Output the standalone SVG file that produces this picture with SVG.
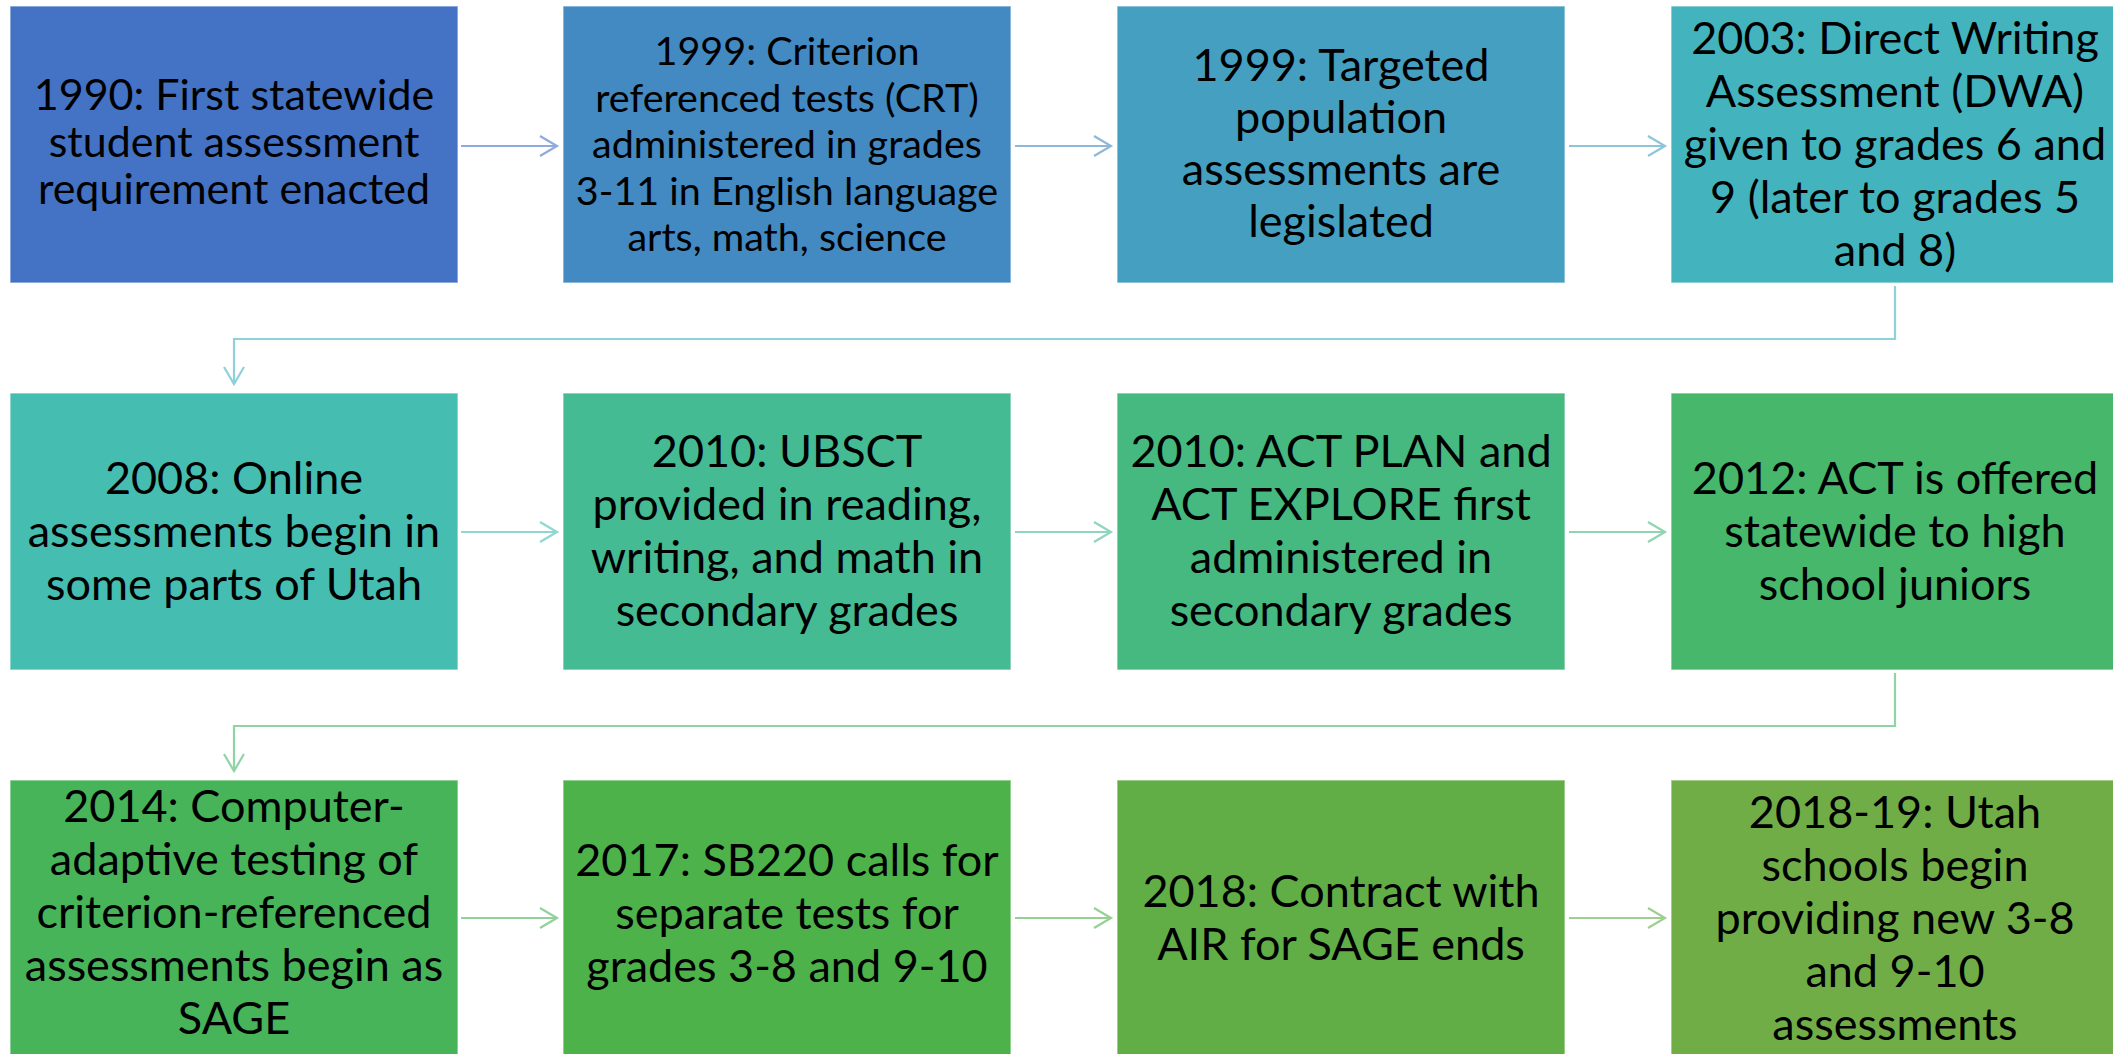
<svg xmlns="http://www.w3.org/2000/svg" width="2113" height="1054" viewBox="0 0 2113 1054">
<style>
.box{stroke:#ffffff;stroke-opacity:0.5;stroke-width:1.5}
.t{font-family:Lato,"Liberation Sans",sans-serif;font-size:45px;fill:#000000;text-anchor:middle}
.c{fill:none;stroke-width:2.2}
</style>
<defs>
<marker id="m1" markerUnits="userSpaceOnUse" viewBox="-20 -12 22 24" refX="0" refY="0" markerWidth="22" markerHeight="24" orient="auto" overflow="visible"><path d="M-17,-10 L0,0 L-17,10" fill="none" stroke="#8FAADC" stroke-width="2.2"/></marker>
<marker id="m2" markerUnits="userSpaceOnUse" viewBox="-20 -12 22 24" refX="0" refY="0" markerWidth="22" markerHeight="24" orient="auto" overflow="visible"><path d="M-17,-10 L0,0 L-17,10" fill="none" stroke="#8EB8DA" stroke-width="2.2"/></marker>
<marker id="m3" markerUnits="userSpaceOnUse" viewBox="-20 -12 22 24" refX="0" refY="0" markerWidth="22" markerHeight="24" orient="auto" overflow="visible"><path d="M-17,-10 L0,0 L-17,10" fill="none" stroke="#8FC5D9" stroke-width="2.2"/></marker>
<marker id="m4" markerUnits="userSpaceOnUse" viewBox="-20 -12 22 24" refX="0" refY="0" markerWidth="22" markerHeight="24" orient="auto" overflow="visible"><path d="M-17,-10 L0,0 L-17,10" fill="none" stroke="#8ED2D8" stroke-width="2.2"/></marker>
<marker id="m5" markerUnits="userSpaceOnUse" viewBox="-20 -12 22 24" refX="0" refY="0" markerWidth="22" markerHeight="24" orient="auto" overflow="visible"><path d="M-17,-10 L0,0 L-17,10" fill="none" stroke="#8FD7D0" stroke-width="2.2"/></marker>
<marker id="m6" markerUnits="userSpaceOnUse" viewBox="-20 -12 22 24" refX="0" refY="0" markerWidth="22" markerHeight="24" orient="auto" overflow="visible"><path d="M-17,-10 L0,0 L-17,10" fill="none" stroke="#8FD6BF" stroke-width="2.2"/></marker>
<marker id="m7" markerUnits="userSpaceOnUse" viewBox="-20 -12 22 24" refX="0" refY="0" markerWidth="22" markerHeight="24" orient="auto" overflow="visible"><path d="M-17,-10 L0,0 L-17,10" fill="none" stroke="#8FD5B2" stroke-width="2.2"/></marker>
<marker id="m8" markerUnits="userSpaceOnUse" viewBox="-20 -12 22 24" refX="0" refY="0" markerWidth="22" markerHeight="24" orient="auto" overflow="visible"><path d="M-17,-10 L0,0 L-17,10" fill="none" stroke="#90D4A6" stroke-width="2.2"/></marker>
<marker id="m9" markerUnits="userSpaceOnUse" viewBox="-20 -12 22 24" refX="0" refY="0" markerWidth="22" markerHeight="24" orient="auto" overflow="visible"><path d="M-17,-10 L0,0 L-17,10" fill="none" stroke="#91D29B" stroke-width="2.2"/></marker>
<marker id="m10" markerUnits="userSpaceOnUse" viewBox="-20 -12 22 24" refX="0" refY="0" markerWidth="22" markerHeight="24" orient="auto" overflow="visible"><path d="M-17,-10 L0,0 L-17,10" fill="none" stroke="#95D193" stroke-width="2.2"/></marker>
<marker id="m11" markerUnits="userSpaceOnUse" viewBox="-20 -12 22 24" refX="0" refY="0" markerWidth="22" markerHeight="24" orient="auto" overflow="visible"><path d="M-17,-10 L0,0 L-17,10" fill="none" stroke="#A0CE91" stroke-width="2.2"/></marker>
</defs>
<rect width="2113" height="1054" fill="#ffffff"/>

<g id="connectors">
<path class="c" stroke="#8FAADC" d="M461,146 H557" marker-end="url(#m1)"/>
<path class="c" stroke="#8EB8DA" d="M1015,146 H1111" marker-end="url(#m2)"/>
<path class="c" stroke="#8FC5D9" d="M1569,146 H1665" marker-end="url(#m3)"/>
<path class="c" stroke="#8ED2D8" d="M1895,286 V339 H234 V384" marker-end="url(#m4)"/>
<path class="c" stroke="#8FD7D0" d="M461,532 H557" marker-end="url(#m5)"/>
<path class="c" stroke="#8FD6BF" d="M1015,532 H1111" marker-end="url(#m6)"/>
<path class="c" stroke="#8FD5B2" d="M1569,532 H1665" marker-end="url(#m7)"/>
<path class="c" stroke="#90D4A6" d="M1895,673 V726 H234 V771" marker-end="url(#m8)"/>
<path class="c" stroke="#91D29B" d="M461,918 H557" marker-end="url(#m9)"/>
<path class="c" stroke="#95D193" d="M1015,918 H1111" marker-end="url(#m10)"/>
<path class="c" stroke="#A0CE91" d="M1569,918 H1665" marker-end="url(#m11)"/>
</g>

<g id="node1"><rect class="box" x="10" y="6" width="448" height="277" fill="#4472C4"/>
<text class="t" style="font-size:43px"><tspan x="234" y="110">1990: First statewide</tspan><tspan x="234" y="157">student assessment</tspan><tspan x="234" y="204">requirement enacted</tspan></text></g>

<g id="node2"><rect class="box" x="563" y="6" width="448" height="277" fill="#4389C2"/>
<text class="t" style="font-size:39.5px"><tspan x="787" y="65">1999: Criterion</tspan><tspan x="787" y="111.5">referenced tests (CRT)</tspan><tspan x="787" y="158">administered in grades</tspan><tspan x="787" y="204.5">3-11 in English language</tspan><tspan x="787" y="251">arts, math, science</tspan></text></g>

<g id="node3"><rect class="box" x="1117" y="6" width="448" height="277" fill="#449FC0"/>
<text class="t"><tspan x="1341" y="81">1999: Targeted</tspan><tspan x="1341" y="133">population</tspan><tspan x="1341" y="185">assessments are</tspan><tspan x="1341" y="237">legislated</tspan></text></g>

<g id="node4"><rect class="box" x="1671" y="6" width="448" height="277" fill="#43B4BE"/>
<text class="t"><tspan x="1895" y="54">2003: Direct Writing</tspan><tspan x="1895" y="107">Assessment (DWA)</tspan><tspan x="1895" y="160">given to grades 6 and</tspan><tspan x="1895" y="213">9 (later to grades 5</tspan><tspan x="1895" y="266">and 8)</tspan></text></g>

<g id="node5"><rect class="box" x="10" y="393" width="448" height="277" fill="#45BDB0"/>
<text class="t"><tspan x="234" y="494">2008: Online</tspan><tspan x="234" y="547">assessments begin in</tspan><tspan x="234" y="600">some parts of Utah</tspan></text></g>

<g id="node6"><rect class="box" x="563" y="393" width="448" height="277" fill="#45BB94"/>
<text class="t"><tspan x="787" y="467">2010: UBSCT</tspan><tspan x="787" y="520">provided in reading,</tspan><tspan x="787" y="573">writing, and math in</tspan><tspan x="787" y="626">secondary grades</tspan></text></g>

<g id="node7"><rect class="box" x="1117" y="393" width="448" height="277" fill="#45B97F"/>
<text class="t"><tspan x="1341" y="467">2010: ACT PLAN and</tspan><tspan x="1341" y="520">ACT EXPLORE first</tspan><tspan x="1341" y="573">administered in</tspan><tspan x="1341" y="626">secondary grades</tspan></text></g>

<g id="node8"><rect class="box" x="1671" y="393" width="448" height="277" fill="#46B76B"/>
<text class="t"><tspan x="1895" y="494">2012: ACT is offered</tspan><tspan x="1895" y="547">statewide to high</tspan><tspan x="1895" y="600">school juniors</tspan></text></g>

<g id="node9"><rect class="box" x="10" y="780" width="448" height="280" fill="#47B459"/>
<text class="t"><tspan x="234" y="822">2014: Computer-</tspan><tspan x="234" y="875">adaptive testing of</tspan><tspan x="234" y="928">criterion-referenced</tspan><tspan x="234" y="981">assessments begin as</tspan><tspan x="234" y="1034">SAGE</tspan></text></g>

<g id="node10"><rect class="box" x="563" y="780" width="448" height="280" fill="#4EB24B"/>
<text class="t"><tspan x="787" y="876">2017: SB220 calls for</tspan><tspan x="787" y="929">separate tests for</tspan><tspan x="787" y="982">grades 3-8 and 9-10</tspan></text></g>

<g id="node11"><rect class="box" x="1117" y="780" width="448" height="280" fill="#61AE47"/>
<text class="t"><tspan x="1341" y="907">2018: Contract with</tspan><tspan x="1341" y="960">AIR for SAGE ends</tspan></text></g>

<g id="node12"><rect class="box" x="1671" y="780" width="448" height="280" fill="#70AD47"/>
<text class="t"><tspan x="1895" y="828">2018-19: Utah</tspan><tspan x="1895" y="881">schools begin</tspan><tspan x="1895" y="934">providing new 3-8</tspan><tspan x="1895" y="987">and 9-10</tspan><tspan x="1895" y="1040">assessments</tspan></text></g>
</svg>
